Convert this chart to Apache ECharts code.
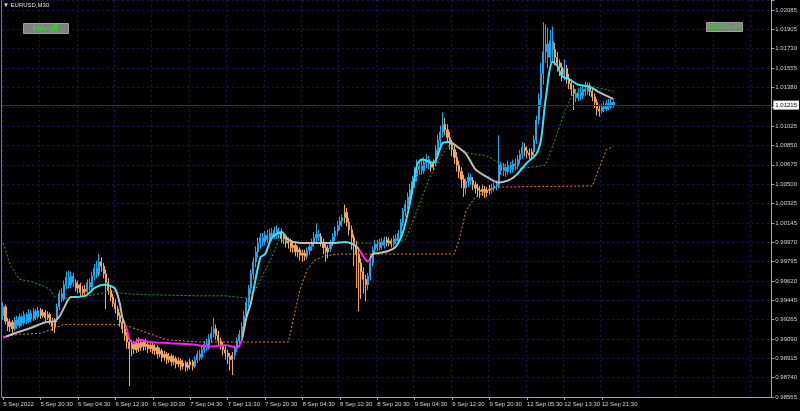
<!DOCTYPE html>
<html><head><meta charset="utf-8">
<script src="https://cdn.jsdelivr.net/npm/echarts@6/dist/echarts.min.js"></script>
<style>html,body{margin:0;padding:0;background:#000}#c{width:800px;height:411px}</style>
</head><body><div id="c"></div>
<script>
// ---- price axis tick labels (bottom to top); index 15 hidden under the bid box
const priceTickLabels = ['0.98565','0.98740','0.98915','0.99090','0.99265','0.99445','0.99620','0.99795','0.99970','1.00145','1.00325','1.00500','1.00675','1.00850','1.01025','','1.01380','1.01555','1.01730','1.01905','1.02085'];
// ---- time labels, one every 16 bars (8 hours of M30)
const timeTickLabels = ['5 Sep 2022','5 Sep 20:30','6 Sep 04:30','6 Sep 12:30','6 Sep 20:30','7 Sep 04:30','7 Sep 12:30','7 Sep 20:30','8 Sep 04:30','8 Sep 12:30','8 Sep 20:30','9 Sep 04:30','9 Sep 12:30','9 Sep 20:30','12 Sep 05:30','12 Sep 13:30','12 Sep 21:30'];
// ---- EURUSD M30 candles: [open, close, low, high]
const candles = [
[0.9930,0.9938,0.9926,0.9942],[0.9938,0.9925,0.9922,0.9940],[0.9925,0.9920,0.9916,0.9928],[0.9920,0.9924,0.9915,0.9927],[0.9924,0.9918,0.9914,0.9926],
[0.9918,0.9926,0.9916,0.9929],[0.9926,0.9921,0.9918,0.9930],[0.9921,0.9929,0.9919,0.9932],[0.9929,0.9923,0.9920,0.9931],[0.9923,0.9931,0.9921,0.9934],
[0.9931,0.9925,0.9922,0.9933],[0.9925,0.9932,0.9923,0.9936],[0.9932,0.9927,0.9924,0.9935],[0.9927,0.9934,0.9925,0.9937],[0.9934,0.9929,0.9926,0.9936],
[0.9929,0.9935,0.9927,0.9938],[0.9935,0.9930,0.9927,0.9937],[0.9930,0.9933,0.9928,0.9936],[0.9933,0.9928,0.9925,0.9935],[0.9928,0.9931,0.9926,0.9934],
[0.9931,0.9925,0.9922,0.9933],[0.9925,0.9920,0.9916,0.9928],[0.9920,0.9926,0.9914,0.9928],[0.9926,0.9938,0.9924,0.9941],[0.9938,0.9950,0.9935,0.9953],
[0.9950,0.9945,0.9942,0.9955],[0.9945,0.9958,0.9943,0.9962],[0.9958,0.9965,0.9954,0.9970],[0.9965,0.9958,0.9955,0.9971],[0.9958,0.9966,0.9955,0.9970],
[0.9966,0.9960,0.9956,0.9969],[0.9960,0.9955,0.9952,0.9963],[0.9955,0.9958,0.9950,0.9962],[0.9958,0.9951,0.9948,0.9960],[0.9951,0.9954,0.9948,0.9957],
[0.9954,0.9952,0.9949,0.9958],[0.9952,0.9960,0.9950,0.9963],[0.9960,0.9956,0.9953,0.9964],[0.9956,0.9966,0.9954,0.9970],[0.9966,0.9973,0.9962,0.9977],
[0.9973,0.9968,0.9964,0.9980],[0.9968,0.9979,0.9966,0.9986],[0.9979,0.9975,0.9970,0.9983],[0.9975,0.9968,0.9964,0.9978],[0.9968,0.9960,0.9936,0.9972],
[0.9960,0.9953,0.9949,0.9964],[0.9953,0.9947,0.9943,0.9957],[0.9947,0.9941,0.9938,0.9950],[0.9941,0.9936,0.9932,0.9945],[0.9936,0.9930,0.9926,0.9939],
[0.9930,0.9924,0.9920,0.9933],[0.9924,0.9918,0.9914,0.9927],[0.9918,0.9912,0.9907,0.9921],[0.9912,0.9906,0.9900,0.9915],[0.9906,0.9900,0.9866,0.9910],
[0.9900,0.9904,0.9893,0.9908],[0.9904,0.9899,0.9895,0.9907],[0.9899,0.9905,0.9896,0.9909],[0.9905,0.9901,0.9897,0.9910],[0.9901,0.9906,0.9898,0.9909],
[0.9906,0.9902,0.9898,0.9908],[0.9902,0.9904,0.9899,0.9909],[0.9904,0.9900,0.9896,0.9907],[0.9900,0.9903,0.9897,0.9906],[0.9903,0.9898,0.9895,0.9906],
[0.9898,0.9901,0.9894,0.9904],[0.9901,0.9895,0.9891,0.9903],[0.9895,0.9898,0.9892,0.9901],[0.9898,0.9892,0.9888,0.9900],[0.9892,0.9895,0.9889,0.9898],
[0.9895,0.9890,0.9886,0.9897],[0.9890,0.9893,0.9887,0.9896],[0.9893,0.9888,0.9884,0.9895],[0.9888,0.9891,0.9885,0.9894],[0.9891,0.9886,0.9882,0.9893],
[0.9886,0.9889,0.9883,0.9892],[0.9889,0.9884,0.9880,0.9891],[0.9884,0.9887,0.9881,0.9890],[0.9887,0.9883,0.9879,0.9889],[0.9883,0.9885,0.9880,0.9888],
[0.9885,0.9888,0.9881,0.9891],[0.9888,0.9884,0.9880,0.9890],[0.9884,0.9890,0.9882,0.9893],[0.9890,0.9895,0.9887,0.9898],[0.9895,0.9892,0.9889,0.9899],
[0.9892,0.9899,0.9890,0.9902],[0.9899,0.9904,0.9896,0.9907],[0.9904,0.9901,0.9898,0.9909],[0.9901,0.9909,0.9899,0.9913],[0.9909,0.9914,0.9905,0.9920],
[0.9914,0.9918,0.9910,0.9928],[0.9918,0.9912,0.9908,0.9922],[0.9912,0.9907,0.9903,0.9916],[0.9907,0.9903,0.9899,0.9910],[0.9903,0.9899,0.9894,0.9906],
[0.9899,0.9896,0.9890,0.9902],[0.9896,0.9893,0.9886,0.9899],[0.9893,0.9890,0.9880,0.9896],[0.9890,0.9894,0.9876,0.9897],[0.9894,0.9900,0.9890,0.9903],
[0.9900,0.9907,0.9897,0.9910],[0.9907,0.9913,0.9904,0.9917],[0.9913,0.9920,0.9910,0.9924],[0.9920,0.9930,0.9917,0.9934],[0.9930,0.9942,0.9927,0.9946],
[0.9942,0.9955,0.9938,0.9958],[0.9955,0.9968,0.9950,0.9972],[0.9968,0.9979,0.9963,0.9983],[0.9979,0.9988,0.9974,0.9993],[0.9988,0.9996,0.9983,1.0001],
[0.9996,1.0001,0.9991,1.0005],[1.0001,0.9997,0.9993,1.0005],[0.9997,1.0003,0.9994,1.0007],[1.0003,0.9999,0.9996,1.0008],[0.9999,1.0005,0.9996,1.0009],
[1.0005,1.0002,0.9998,1.0010],[1.0002,1.0008,1.0000,1.0011],[1.0008,1.0004,1.0000,1.0012],[1.0004,1.0006,1.0000,1.0010],[1.0006,1.0000,0.9996,1.0009],
[1.0000,1.0002,0.9995,1.0005],[1.0002,0.9996,0.9992,1.0004],[0.9996,0.9998,0.9991,1.0001],[0.9998,0.9992,0.9988,1.0000],[0.9992,0.9994,0.9987,0.9997],
[0.9994,0.9988,0.9984,0.9996],[0.9988,0.9990,0.9983,0.9993],[0.9990,0.9985,0.9980,0.9992],[0.9985,0.9987,0.9979,0.9990],[0.9987,0.9984,0.9980,0.9990],
[0.9984,0.9989,0.9981,0.9992],[0.9989,0.9993,0.9985,0.9996],[0.9993,0.9997,0.9989,1.0000],[0.9997,1.0001,0.9993,1.0006],[1.0001,1.0004,0.9997,1.0014],
[1.0004,1.0002,0.9998,1.0008],[1.0002,0.9997,0.9993,1.0005],[0.9997,0.9992,0.9986,1.0000],[0.9992,0.9988,0.9979,0.9995],[0.9988,0.9991,0.9982,0.9994],
[0.9991,0.9996,0.9988,0.9999],[0.9996,1.0002,0.9993,1.0005],[1.0002,1.0007,0.9998,1.0011],[1.0007,1.0012,1.0003,1.0016],[1.0012,1.0016,1.0008,1.0020],
[1.0016,1.0019,1.0011,1.0022],[1.0019,1.0024,1.0014,1.0031],[1.0024,1.0015,1.0011,1.0028],[1.0015,1.0008,1.0003,1.0019],[1.0008,1.0001,0.9990,1.0012],
[1.0001,0.9994,0.9975,1.0004],[0.9994,0.9986,0.9955,0.9998],[0.9986,0.9978,0.9934,0.9990],[0.9978,0.9970,0.9945,0.9982],[0.9970,0.9963,0.9950,0.9974],
[0.9963,0.9958,0.9943,0.9967],[0.9958,0.9966,0.9953,0.9969],[0.9966,0.9978,0.9962,0.9981],[0.9978,0.9990,0.9975,0.9993],[0.9990,0.9995,0.9987,0.9999],
[0.9995,0.9992,0.9989,0.9999],[0.9992,0.9997,0.9989,1.0000],[0.9997,0.9994,0.9990,1.0001],[0.9994,0.9999,0.9991,1.0002],[0.9999,0.9996,0.9993,1.0002],
[0.9996,0.9998,0.9993,1.0001],[0.9998,0.9995,0.9992,1.0000],[0.9995,1.0000,0.9993,1.0003],[1.0000,0.9998,0.9995,1.0004],[0.9998,1.0005,0.9995,1.0008],
[1.0005,1.0015,1.0002,1.0018],[1.0015,1.0025,1.0011,1.0028],[1.0025,1.0031,1.0020,1.0035],[1.0031,1.0038,1.0027,1.0042],[1.0038,1.0045,1.0033,1.0050],
[1.0045,1.0052,1.0040,1.0057],[1.0052,1.0057,1.0046,1.0065],[1.0057,1.0063,1.0052,1.0072],[1.0063,1.0066,1.0058,1.0070],[1.0066,1.0062,1.0058,1.0072],
[1.0062,1.0069,1.0059,1.0074],[1.0069,1.0072,1.0064,1.0077],[1.0072,1.0068,1.0063,1.0075],[1.0068,1.0065,1.0061,1.0071],[1.0065,1.0069,1.0062,1.0072],
[1.0069,1.0081,1.0066,1.0085],[1.0081,1.0090,1.0076,1.0095],[1.0090,1.0097,1.0085,1.0103],[1.0097,1.0104,1.0092,1.0115],[1.0104,1.0099,1.0094,1.0110],
[1.0099,1.0092,1.0087,1.0104],[1.0092,1.0086,1.0081,1.0097],[1.0086,1.0081,1.0075,1.0090],[1.0081,1.0074,1.0068,1.0085],[1.0074,1.0067,1.0061,1.0079],
[1.0067,1.0061,1.0055,1.0071],[1.0061,1.0054,1.0046,1.0065],[1.0054,1.0046,1.0038,1.0058],[1.0046,1.0052,1.0040,1.0055],[1.0052,1.0056,1.0047,1.0060],
[1.0056,1.0053,1.0049,1.0059],[1.0053,1.0049,1.0044,1.0056],[1.0049,1.0046,1.0041,1.0052],[1.0046,1.0044,1.0038,1.0050],[1.0044,1.0043,1.0037,1.0048],
[1.0043,1.0045,1.0039,1.0049],[1.0045,1.0042,1.0037,1.0048],[1.0042,1.0044,1.0038,1.0047],[1.0044,1.0045,1.0040,1.0049],[1.0045,1.0046,1.0041,1.0050],
[1.0046,1.0048,1.0043,1.0051],[1.0048,1.0049,1.0044,1.0053],[1.0049,1.0067,1.0046,1.0094],[1.0067,1.0062,1.0058,1.0070],[1.0062,1.0065,1.0057,1.0069],
[1.0065,1.0061,1.0056,1.0068],[1.0061,1.0067,1.0058,1.0071],[1.0067,1.0063,1.0059,1.0070],[1.0063,1.0068,1.0060,1.0072],[1.0068,1.0066,1.0062,1.0073],
[1.0066,1.0072,1.0063,1.0076],[1.0072,1.0077,1.0068,1.0081],[1.0077,1.0083,1.0073,1.0088],[1.0083,1.0080,1.0075,1.0087],[1.0080,1.0078,1.0073,1.0084],
[1.0078,1.0076,1.0072,1.0082],[1.0076,1.0079,1.0072,1.0082],[1.0079,1.0090,1.0075,1.0094],[1.0090,1.0108,1.0086,1.0112],[1.0108,1.0127,1.0104,1.0132],
[1.0127,1.0150,1.0120,1.0160],[1.0150,1.0170,1.0140,1.0197],[1.0170,1.0177,1.0160,1.0195],[1.0177,1.0165,1.0155,1.0192],[1.0165,1.0180,1.0160,1.0190],
[1.0180,1.0172,1.0160,1.0193],[1.0172,1.0165,1.0158,1.0178],[1.0165,1.0160,1.0152,1.0170],[1.0160,1.0156,1.0148,1.0163],[1.0156,1.0149,1.0143,1.0160],
[1.0149,1.0155,1.0144,1.0163],[1.0155,1.0146,1.0141,1.0158],[1.0146,1.0141,1.0136,1.0150],[1.0141,1.0136,1.0130,1.0145],[1.0136,1.0132,1.0117,1.0140],
[1.0132,1.0128,1.0124,1.0136],[1.0128,1.0133,1.0125,1.0137],[1.0133,1.0130,1.0126,1.0138],[1.0130,1.0136,1.0127,1.0140],[1.0136,1.0134,1.0130,1.0143],
[1.0134,1.0139,1.0131,1.0142],[1.0139,1.0134,1.0130,1.0142],[1.0134,1.0129,1.0125,1.0137],[1.0129,1.0124,1.0119,1.0132],[1.0124,1.0118,1.0112,1.0127],
[1.0118,1.0116,1.0111,1.0122],[1.0116,1.0120,1.0114,1.0123],[1.0120,1.0118,1.0115,1.0125],[1.0118,1.0123,1.0116,1.0126],[1.0123,1.0120,1.0117,1.0127],
[1.0120,1.0124,1.0118,1.0127],[1.0124,1.01215,1.0119,1.0126]
];
// ---- candle trend colouring runs: [firstBar, lastBar, 'u' | 'd']
const candleTrendRuns = [[0,0,'u'],[1,4,'d'],[5,15,'u'],[16,22,'d'],[23,30,'u'],[31,35,'d'],[36,41,'u'],[42,81,'d'],[82,90,'u'],[91,98,'d'],[99,118,'u'],[119,129,'d'],[130,135,'u'],[136,139,'d'],[140,145,'u'],[146,155,'d'],[156,163,'u'],[164,166,'d'],[167,182,'u'],[183,184,'d'],[185,188,'u'],[189,197,'d'],[198,200,'u'],[201,208,'d'],[209,222,'u'],[223,226,'d'],[227,235,'u'],[236,239,'d'],[240,240,'u'],[241,244,'d'],[245,250,'u'],[251,255,'d'],[256,261,'u']];
// ---- smoothed moving average [bar, price]
const maLine = [[0,0.9910],[5,0.9914],[12,0.9919],[18,0.9924],[22,0.9925],[24,0.9929],[26,0.9937],[29,0.9947],[31,0.9947],[35,0.9948],[37,0.9951],[39,0.9955],[43,0.9958],[46,0.9957],[48,0.9954],[50,0.9940],[51,0.9928],[53,0.9917],[54,0.9908],[56,0.9905],[58,0.9908],[63,0.9906],[71,0.9905],[80,0.9904],[88,0.9902],[95,0.9903],[100,0.9901],[102,0.9908],[104,0.9928],[106,0.9942],[110,0.9983],[112,0.9986],[115,1.0001],[119,1.0006],[122,0.9999],[127,0.9996],[135,0.9996],[141,0.9996],[146,0.9997],[151,0.9993],[154,0.9984],[156,0.9979],[158,0.9986],[161,0.9987],[165,0.9989],[168,0.9993],[171,1.0006],[174,1.0033],[177,1.0067],[179,1.0072],[184,1.0069],[188,1.0087],[191,1.0088],[194,1.0084],[198,1.0077],[202,1.0063],[207,1.0056],[212,1.0051],[216,1.0053],[219,1.0057],[224,1.0069],[228,1.0077],[230,1.0090],[232,1.0127],[235,1.0161],[237,1.0157],[239,1.0148],[242,1.0145],[246,1.0140],[251,1.0138],[255,1.0133],[261,1.0127]];
// ---- MA colour runs: [fromBar, toBar, 'c' up | 'g' flat | 'm' down]
const maColorRuns = [[0,1,'m'],[1,29,'g'],[29,48,'c'],[48,52,'g'],[52,102,'m'],[102,107,'g'],[107,121,'c'],[121,144,'g'],[144,148,'c'],[148,152,'g'],[152,157,'m'],[157,168,'g'],[168,190,'c'],[190,219,'g'],[219,253,'c'],[253,262,'g']];
// ---- upper (green) and lower (orange) dotted trailing levels [bar, price]
const greenLevel = [[0,0.9996],[3,0.9976],[7,0.9963],[12,0.9961],[16,0.9958],[20,0.9954],[22,0.9947],[26,0.9946],[33,0.9947],[39,0.9949],[46,0.9952],[52,0.9950],[63,0.9949],[84,0.9948],[95,0.9948],[104,0.9946],[108,0.9954],[115,0.9984],[118,0.9999],[127,0.9996],[148,0.9996],[168,0.9996],[172,0.9999],[178,1.0031],[182,1.0054],[185,1.0066],[190,1.0084],[194,1.0083],[199,1.0078],[207,1.0075],[212,1.0069],[216,1.0065],[221,1.0064],[226,1.0065],[232,1.0067],[236,1.0090],[240,1.0115],[243,1.0129],[246,1.0136],[253,1.0138],[261,1.0134]];
const orangeLevel = [[0,0.9911],[7,0.9913],[16,0.9914],[20,0.9917],[26,0.9922],[29,0.9922],[48,0.9922],[54,0.9920],[70,0.9908],[84,0.9906],[122,0.9906],[124,0.9926],[127,0.9954],[130,0.9972],[133,0.9980],[137,0.9984],[143,0.9986],[193,0.9986],[195,0.9999],[198,1.0026],[202,1.0038],[208,1.0045],[212,1.0047],[252,1.0048],[255,1.0065],[258,1.0081],[261,1.0084]];

// ---- layout / style constants
const slotCount = 329;       // bars + empty right shift area
const labelEvery = 16;
const yMin = 0.98560, yMax = 1.02171, yStep = 0.00176;
const COL = {up:'#1ea6ee', down:'#f2a462', maC:'#36e4f2', maG:'#bdbdbd', maM:'#ff20ff', green:'#23a023', orange:'#e08a22', grid:'#16164e', axis:'#a4a4a8', text:'#d4d4d4', bid:'#2c2c62', btn:'#808080', btnText:'#22e622'};
const FONT = "'Liberation Sans',Arial,sans-serif";

const barCount = candles.length;
const trendOf = new Array(barCount);
candleTrendRuns.forEach(r => { for (let i = r[0]; i <= r[1]; i++) trendOf[i] = r[2]; });
const upData = candles.map((c, i) => trendOf[i] === 'u' ? c : '-');
const dnData = candles.map((c, i) => trendOf[i] === 'd' ? c : '-');
const categories = Array.from({length: slotCount}, (_, i) => String(i));
const lastPrice = candles[barCount - 1][1];
const maColorMap = {c: COL.maC, g: COL.maG, m: COL.maM};

function candleStyle(c) {
  return {color: c, color0: c, borderColor: c, borderColor0: c, borderColorDoji: c, borderWidth: 1};
}
function button(text, left, top, fontSize, padding) {
  return {text: text, left: left, top: top, padding: padding, backgroundColor: COL.btn,
    borderColor: '#a0a0a0', borderWidth: 1, itemGap: 0,
    textStyle: {color: COL.btnText, fontSize: fontSize, fontWeight: 'normal', fontFamily: FONT, lineHeight: fontSize + 1}};
}

const chart = echarts.init(document.getElementById('c'), null, {renderer: 'canvas'});
chart.setOption({
  backgroundColor: '#000',
  animation: false,
  textStyle: {fontFamily: FONT},
  title: [
    {text: '▼ EURUSD,M30', left: 3, top: 1, padding: 0, textStyle: {color: '#e0e0e0', fontSize: 6, fontWeight: 'normal', fontFamily: FONT, lineHeight: 8}},
    button('HA-off', 23, 23, 9, [1, 10, 0, 10]),
    button('DSMA-off', 706, 22, 7.5, [1, 2, 0, 2])
  ],
  grid: {left: 2, right: 27, top: 0, bottom: 14, containLabel: false},
  xAxis: {
    type: 'category', data: categories, boundaryGap: true,
    axisLine: {show: true, lineStyle: {color: COL.axis, width: 1}},
    axisTick: {show: true, alignWithLabel: true, length: 3, lineStyle: {color: COL.axis},
      interval: (idx) => idx % labelEvery === 0 && idx < barCount},
    axisLabel: {show: true, color: COL.text, fontSize: 6, fontFamily: FONT, align: 'left', margin: 4,
      interval: (idx) => idx % labelEvery === 0,
      formatter: (v, idx) => (idx % labelEvery === 0 && timeTickLabels[idx / labelEvery]) ? timeTickLabels[idx / labelEvery] : ''},
    splitLine: {show: true, interval: (idx) => idx % labelEvery === 0, lineStyle: {color: COL.grid, type: [2, 3], width: 1}}
  },
  yAxis: {
    type: 'value', position: 'right', min: yMin, max: yMax, interval: yStep,
    axisLine: {show: true, lineStyle: {color: COL.axis, width: 1}},
    axisTick: {show: true, length: 3, lineStyle: {color: COL.axis}},
    axisLabel: {show: true, color: COL.text, fontSize: 6, fontFamily: FONT, margin: 4,
      showMinLabel: true, showMaxLabel: true,
      formatter: (v) => {
        const f = (v - yMin) / yStep, k = Math.round(f);
        if (Math.abs(f - k) > 0.02) return '';
        return priceTickLabels[k] || '';
      }},
    splitLine: {show: true, lineStyle: {color: COL.grid, type: [2, 3], width: 1}}
  },
  visualMap: [{
    type: 'piecewise', show: false, dimension: 0, seriesIndex: 2,
    pieces: maColorRuns.map(r => ({gte: r[0], lt: r[1], color: maColorMap[r[2]]}))
  }],
  series: [
    {type: 'candlestick', name: 'up', data: upData, barWidth: 1.6, itemStyle: candleStyle(COL.up)},
    {type: 'candlestick', name: 'down', data: dnData, barWidth: 1.6, itemStyle: candleStyle(COL.down)},
    {type: 'line', name: 'MA', data: maLine, showSymbol: false, symbol: 'none', smooth: 0.3, lineStyle: {width: 2}, z: 5},
    {type: 'line', name: 'upper', data: greenLevel, showSymbol: false, symbol: 'none', lineStyle: {width: 1, color: COL.green, type: [2, 2]}, z: 4,
      markLine: {silent: true, symbol: ['none', 'none'], animation: false, precision: 5,
        data: [{yAxis: lastPrice}],
        lineStyle: {color: COL.bid, width: 1, type: 'solid'},
        label: {show: true, position: 'end', distance: 2, formatter: () => lastPrice.toFixed(5),
          backgroundColor: '#ffffff', color: '#000000', fontSize: 6, fontFamily: FONT, padding: [2, 2, 1, 2]}}},
    {type: 'line', name: 'lower', data: orangeLevel, showSymbol: false, symbol: 'none', lineStyle: {width: 1, color: COL.orange, type: [2, 2]}, z: 4}
  ],
  graphic: [
    {type: 'line', shape: {x1: 1.5, y1: 0, x2: 1.5, y2: 397}, style: {stroke: '#7a7a7a', lineWidth: 1}, silent: true}
  ]
});
</script>
</body></html>
